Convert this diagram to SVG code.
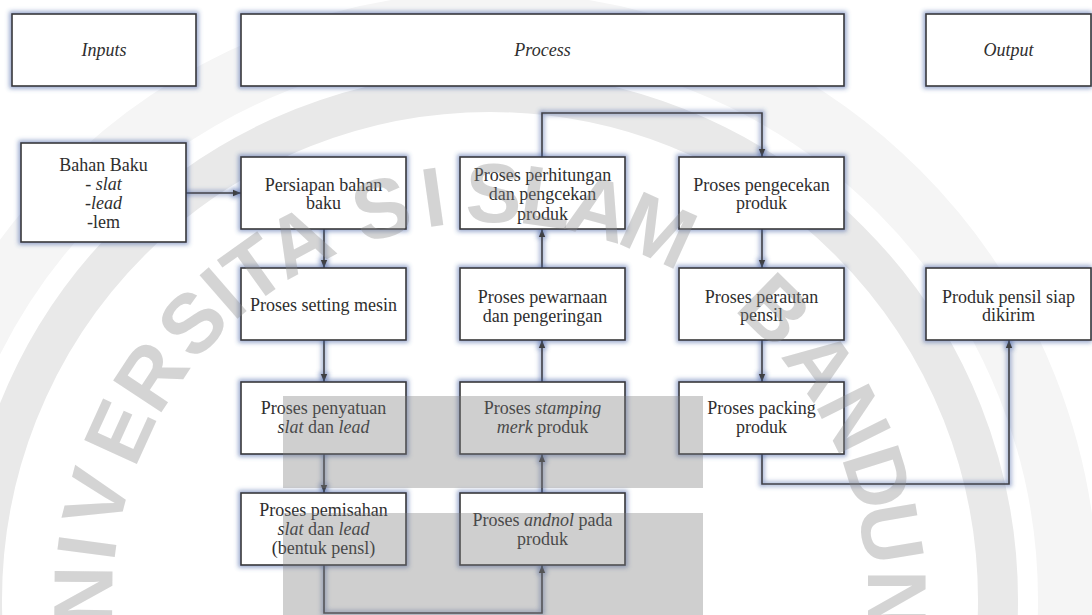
<svg xmlns="http://www.w3.org/2000/svg" width="1092" height="615" viewBox="0 0 1092 615">
<style>
.t{font-family:"Liberation Serif","Times New Roman","DejaVu Serif",serif;font-size:18px;fill:#2e2e2e;text-anchor:middle}
.i{font-style:italic}
.box{fill:#ffffff;stroke:#383838;stroke-width:1.6}
.con{fill:none;stroke:#404040;stroke-width:1.6}
.wm{font-family:"Liberation Sans",Arial,sans-serif;font-weight:bold;font-size:84px;fill:#8a8a8a;fill-opacity:0.37;text-anchor:middle}
.wr{fill:#7a7a7a;fill-opacity:0.36}
</style>
<defs>
<filter id="glow" filterUnits="userSpaceOnUse" x="0" y="0" width="1092" height="615">
<feMorphology in="SourceAlpha" operator="dilate" radius="1.5" result="d"/>
<feGaussianBlur in="d" stdDeviation="2" result="b"/>
<feFlood flood-color="#3c5aa0" flood-opacity="0.5"/>
<feComposite in2="b" operator="in" result="g"/>
<feMerge><feMergeNode in="g"/><feMergeNode in="SourceGraphic"/></feMerge>
</filter>
<marker id="arr" viewBox="0 0 10 10" refX="10" refY="5" markerWidth="8" markerHeight="8" markerUnits="userSpaceOnUse" orient="auto">
<path d="M0,1 L10,5 L0,9 z" fill="#404040"/>
</marker>
</defs>
<rect width="1092" height="615" fill="#ffffff"/>
<g id="watermark-rings" fill="none">
<circle cx="490" cy="600" r="508" stroke="#e9e9e9" stroke-width="40"/>
<circle cx="490" cy="600" r="578" stroke="#f5f5f5" stroke-width="60"/>
</g>
<g id="connectors" filter="url(#glow)">
<path class="con" d="M186,193 H241" marker-end="url(#arr)"/>
<path class="con" d="M324,229 V268" marker-end="url(#arr)"/>
<path class="con" d="M324,340 V382" marker-end="url(#arr)"/>
<path class="con" d="M324,454 V493" marker-end="url(#arr)"/>
<path class="con" d="M324,565 V613 H542 V565" marker-end="url(#arr)"/>
<path class="con" d="M542,493 V454" marker-end="url(#arr)"/>
<path class="con" d="M542,382 V340" marker-end="url(#arr)"/>
<path class="con" d="M542,268 V229" marker-end="url(#arr)"/>
<path class="con" d="M542,157 V113 H762 V157" marker-end="url(#arr)"/>
<path class="con" d="M762,229 V268" marker-end="url(#arr)"/>
<path class="con" d="M762,340 V382" marker-end="url(#arr)"/>
<path class="con" d="M762,454 V484 H1009 V340" marker-end="url(#arr)"/>
</g>
<g id="inputs"><rect class="box" x="12" y="14" width="184" height="72" filter="url(#glow)"/><text class="t i" x="104" y="56">Inputs</text></g>
<g id="process"><rect class="box" x="241" y="14" width="603" height="72" filter="url(#glow)"/><text class="t i" x="542.5" y="56">Process</text></g>
<g id="output"><rect class="box" x="926" y="14" width="165" height="72" filter="url(#glow)"/><text class="t i" x="1008.5" y="56">Output</text></g>
<g id="bahan-baku"><rect class="box" x="21" y="143" width="165" height="99" filter="url(#glow)"/>
<text class="t" x="103.5" y="171">Bahan Baku</text>
<text class="t" x="103.5" y="190">- <tspan class="i">slat</tspan></text>
<text class="t" x="103.5" y="209">-<tspan class="i">lead</tspan></text>
<text class="t" x="103.5" y="228">-lem</text></g>
<g id="persiapan"><rect class="box" x="241" y="157" width="165" height="72" filter="url(#glow)"/>
<text class="t" x="323.5" y="191">Persiapan bahan</text><text class="t" x="323.5" y="209">baku</text></g>
<g id="setting"><rect class="box" x="241" y="268" width="165" height="72" filter="url(#glow)"/>
<text class="t" x="323.5" y="311">Proses setting mesin</text></g>
<g id="penyatuan"><rect class="box" x="241" y="382" width="165" height="72" filter="url(#glow)"/>
<text class="t" x="323.5" y="414">Proses penyatuan</text><text class="t" x="323.5" y="433"><tspan class="i">slat</tspan> dan <tspan class="i">lead</tspan></text></g>
<g id="pemisahan"><rect class="box" x="241" y="493" width="165" height="72" filter="url(#glow)"/>
<text class="t" x="323.5" y="516">Proses pemisahan</text><text class="t" x="323.5" y="535"><tspan class="i">slat</tspan> dan <tspan class="i">lead</tspan></text><text class="t" x="323.5" y="554">(bentuk pensl)</text></g>
<g id="perhitungan"><rect class="box" x="460" y="157" width="165" height="72" filter="url(#glow)"/>
<text class="t" x="542.5" y="181">Proses perhitungan</text><text class="t" x="542.5" y="200">dan pengcekan</text><text class="t" x="542.5" y="220">produk</text></g>
<g id="pewarnaan"><rect class="box" x="460" y="268" width="165" height="72" filter="url(#glow)"/>
<text class="t" x="542.5" y="303">Proses pewarnaan</text><text class="t" x="542.5" y="322">dan pengeringan</text></g>
<g id="stamping"><rect class="box" x="460" y="382" width="165" height="72" filter="url(#glow)"/>
<text class="t" x="542.5" y="414">Proses <tspan class="i">stamping</tspan></text><text class="t" x="542.5" y="433"><tspan class="i">merk</tspan> produk</text></g>
<g id="andnol"><rect class="box" x="460" y="493" width="165" height="72" filter="url(#glow)"/>
<text class="t" x="542.5" y="526">Proses <tspan class="i">andnol</tspan> pada</text><text class="t" x="542.5" y="545">produk</text></g>
<g id="pengecekan"><rect class="box" x="679" y="157" width="165" height="72" filter="url(#glow)"/>
<text class="t" x="761.5" y="191">Proses pengecekan</text><text class="t" x="761.5" y="209">produk</text></g>
<g id="perautan"><rect class="box" x="679" y="268" width="165" height="72" filter="url(#glow)"/>
<text class="t" x="761.5" y="303">Proses perautan</text><text class="t" x="761.5" y="321">pensil</text></g>
<g id="packing"><rect class="box" x="679" y="382" width="165" height="72" filter="url(#glow)"/>
<text class="t" x="761.5" y="414">Proses packing</text><text class="t" x="761.5" y="433">produk</text></g>
<g id="produk-siap"><rect class="box" x="926" y="268" width="165" height="72" filter="url(#glow)"/>
<text class="t" x="1008.5" y="303">Produk pensil siap</text><text class="t" x="1008.5" y="321">dikirim</text></g>
<g id="watermark">
<rect class="wr" x="283" y="396" width="420" height="92"/>
<rect class="wr" x="283" y="513" width="420" height="102"/>
<text class="wm" dy="0.36em" transform="translate(87,664) rotate(-99)">U</text>
<text class="wm" dy="0.36em" transform="translate(82,596) rotate(-89.5)">N</text>
<text class="wm" dy="0.36em" transform="translate(85.5,547) rotate(-82.5)">I</text>
<text class="wm" dy="0.36em" transform="translate(95,498) rotate(-75.5)">V</text>
<text class="wm" dy="0.36em" transform="translate(118.7,431) rotate(-65.5)">E</text>
<text class="wm" dy="0.36em" transform="translate(149.8,375) rotate(-56.5)">R</text>
<text class="wm" dy="0.36em" transform="translate(191.6,322) rotate(-47)">S</text>
<text class="wm" dy="0.36em" transform="translate(222.3,292) rotate(-41)">I</text>
<text class="wm" dy="0.36em" transform="translate(253.1,268) rotate(-35.5)">T</text>
<text class="wm" dy="0.36em" transform="translate(298.4,240) rotate(-28)">A</text>
<text class="wm" dy="0.36em" transform="translate(381,207) rotate(-15.5)">S</text>
<text class="wm" dy="0.36em" transform="translate(433.2,196) rotate(-8)">I</text>
<text class="wm" dy="0.36em" transform="translate(493.6,192) rotate(0.5)">S</text>
<text class="wm" dy="0.36em" transform="translate(546.8,196) rotate(8)">L</text>
<text class="wm" dy="0.36em" transform="translate(599,207) rotate(15.5)">A</text>
<text class="wm" dy="0.36em" transform="translate(659.2,229) rotate(24.5)">M</text>
<text class="wm" dy="0.36em" transform="translate(776,309) rotate(44.5)">B</text>
<text class="wm" dy="0.36em" transform="translate(822.2,363) rotate(54.5)">A</text>
<text class="wm" dy="0.36em" transform="translate(855.1,418) rotate(63.5)">N</text>
<text class="wm" dy="0.36em" transform="translate(879.1,477) rotate(72.5)">D</text>
<text class="wm" dy="0.36em" transform="translate(892.4,533) rotate(80.5)">U</text>
<text class="wm" dy="0.36em" transform="translate(898,600) rotate(90)">N</text>
<text class="wm" dy="0.36em" transform="translate(892.4,667) rotate(99.5)">G</text>
</g>
</svg>
